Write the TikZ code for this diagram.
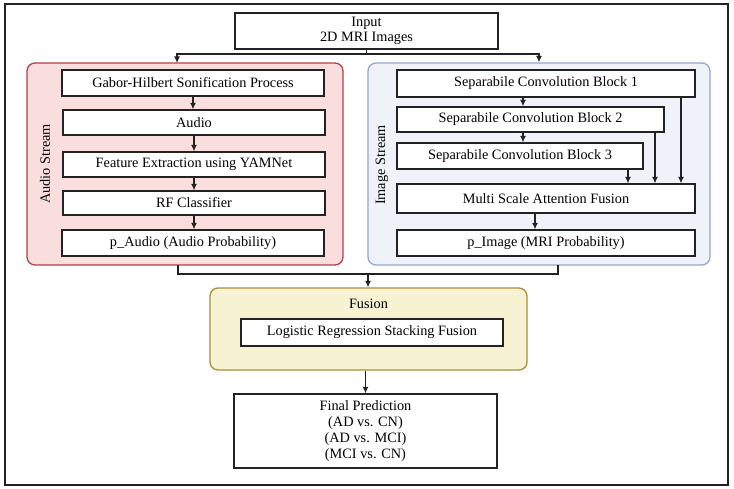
\documentclass[tikz,border=0pt]{standalone}
\usepackage{fontspec}
\setmainfont{Liberation Serif}
\usetikzlibrary{arrows.meta}
\definecolor{audiofill}{HTML}{FADEDE}
\definecolor{audiodraw}{HTML}{B33F48}
\definecolor{imgfill}{HTML}{EFF3F9}
\definecolor{imgdraw}{HTML}{93A7CE}
\definecolor{fusfill}{HTML}{F7F2D2}
\definecolor{fusdraw}{HTML}{A98E3C}
\definecolor{ink}{HTML}{222222}
\begin{document}
\begin{tikzpicture}[x=1pt,y=-1pt,
  font=\fontsize{14.3}{16}\selectfont,
  box/.style={draw=ink, line width=1.3pt, fill=white, inner sep=0pt, align=center},
  container/.style={rounded corners=8pt, line width=1.3pt, inner sep=0pt},
  conn/.style={draw=ink, line width=1.1pt},
  arr/.style={conn, -{Latex[length=6.5pt,width=6pt]}}]
\useasboundingbox (0,0) rectangle (734,489);
\draw[ink, line width=1.2pt] (5,4) rectangle (728,485);

% containers
\node[container, draw=audiodraw, fill=audiofill, minimum width=316pt, minimum height=202pt] (audiobg) at (185,164) {};
\node[container, draw=imgdraw, fill=imgfill, minimum width=342pt, minimum height=202pt] (imagebg) at (539,164) {};
\node[container, draw=fusdraw, fill=fusfill, minimum width=317pt, minimum height=82pt] (fusionbg) at (368.5,329) {};

\node[rotate=90] (audiolbl) at (45,164) {Audio Stream};
\node[rotate=90] (imagelbl) at (382,165) {Image Stream};
\node (fuslbl) at (368.5,304) {Fusion};

% input
\node[box, minimum width=263pt, minimum height=36pt] (input) at (366.5,31)
  {\raisebox{-2pt}{\begin{tabular}{@{}c@{}}Input\\[-1pt]2D MRI Images\end{tabular}}};

% audio stream
\node[box, minimum width=262pt, minimum height=26pt] (gabor) at (193,83) {Gabor-Hilbert Sonification Process};
\node[box, minimum width=262pt, minimum height=25pt] (audio) at (194,122.5) {Audio};
\node[box, minimum width=262pt, minimum height=25pt] (feat) at (194,164.5) {Feature Extraction using YAMNet};
\node[box, minimum width=262pt, minimum height=24pt] (rf) at (194,203) {RF Classifier};
\node[box, minimum width=262pt, minimum height=26pt] (paudio) at (193,243) {p\_Audio (Audio Probability)};

% image stream
\node[box, minimum width=298pt, minimum height=27pt] (b1) at (546,83.5) {Separabile Convolution Block 1};
\node[box, minimum width=267pt, minimum height=25pt] (b2) at (530.5,119.5) {Separabile Convolution Block 2};
\node[box, minimum width=246pt, minimum height=26pt] (b3) at (520,156) {Separabile Convolution Block 3};
\node[box, minimum width=298pt, minimum height=29pt] (msaf) at (546,198.5) {Multi Scale Attention Fusion};
\node[box, minimum width=298pt, minimum height=26pt] (pimg) at (546,243) {p\_Image (MRI Probability)};

% fusion
\node[box, minimum width=262pt, minimum height=27pt] (logreg) at (372,332.5) {Logistic Regression Stacking Fusion};
\node[box, minimum width=263pt, minimum height=74pt] (final) at (365.5,431)
  {\raisebox{-3pt}{\begin{tabular}{@{}c@{}}Final Prediction\\(AD vs. CN)\\(AD vs. MCI)\\(MCI vs. CN)\end{tabular}}};

% top split
\coordinate (split) at (366.5,54);
\coordinate (aTop) at (177,63);
\draw[arr] (input.south) -- (split) -| (aTop);
\draw[arr] (split) -| (imagebg.north);

% audio chain
\draw[arr] (gabor.south) -- (gabor.south |- audio.north);
\draw[arr] (audio.south) -- (feat.north);
\draw[arr] (feat.south) -- (rf.north);
\draw[arr] (rf.south) -- (rf.south |- paudio.north);

% image chain
\coordinate (x1) at (523,0);
\coordinate (x3) at (628,0);
\coordinate (x2s) at (655,0);
\coordinate (x1s) at (681,0);
\coordinate (x4) at (535,0);
\draw[arr] (x1 |- b1.south) -- (x1 |- b2.north);
\draw[arr] (x1 |- b2.south) -- (x1 |- b3.north);
\draw[arr] (x3 |- b3.south) -- (x3 |- msaf.north);
\draw[arr] (x2s |- b2.south) -- (x2s |- msaf.north);
\draw[arr] (x1s |- b1.south) -- (x1s |- msaf.north);
\draw[arr] (x4 |- msaf.south) -- (x4 |- pimg.north);

% bottom join
\coordinate (aBot) at (178,265);
\coordinate (iBot) at (558,265);
\coordinate (join) at (368,274);
\draw[conn] (aBot) |- (iBot |- join) -- (iBot);
\draw[arr] (join) -- (join |- fusionbg.north);
\draw[arr] (fusionbg.south -| final.north) -- (final.north);
\end{tikzpicture}
\end{document}
